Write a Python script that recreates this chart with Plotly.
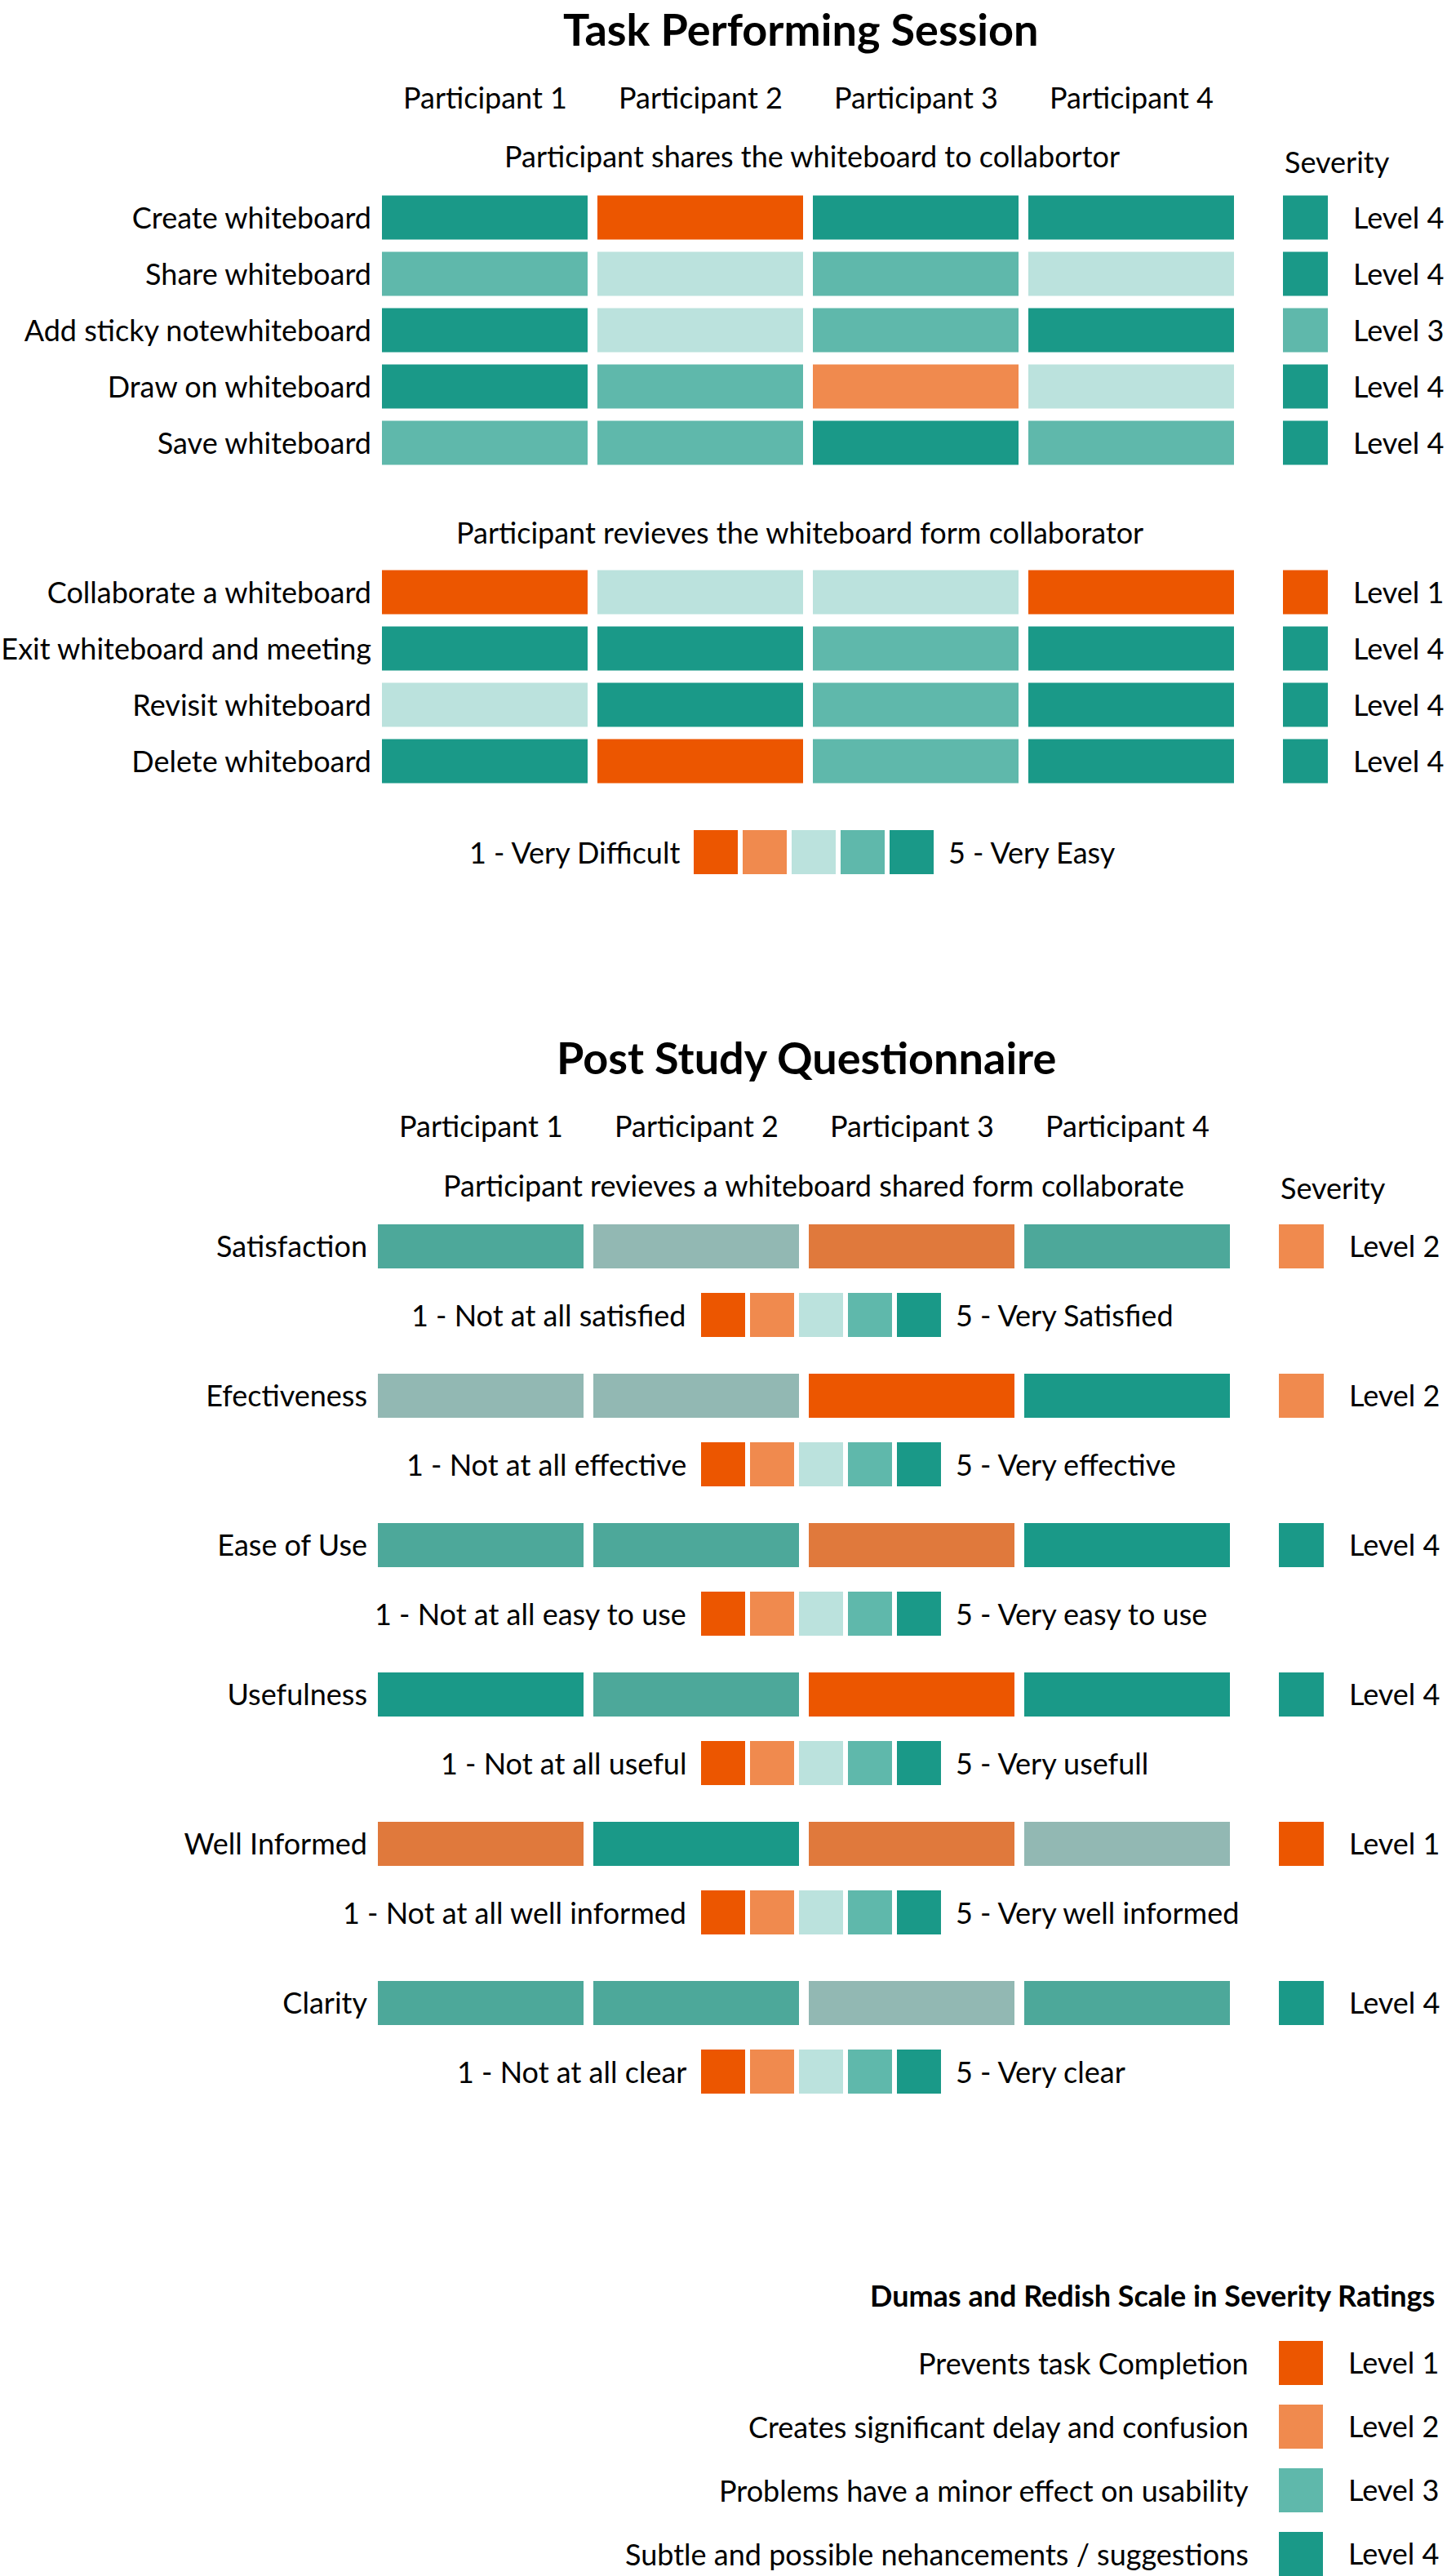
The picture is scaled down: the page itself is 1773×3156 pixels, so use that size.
import plotly.graph_objects as go

W, H = 1773, 3156
FONT = "Lato"
BLACK = "#000000"
FS = 36          # regular text size
TITLE_FS = 54

# ---------------- data ----------------
participants = ["Participant 1", "Participant 2", "Participant 3", "Participant 4"]

share_tasks = ["Create whiteboard", "Share whiteboard", "Add sticky notewhiteboard",
               "Draw on whiteboard", "Save whiteboard"]
share_scores = [[5, 1, 5, 5],
                [4, 3, 4, 3],
                [5, 3, 4, 5],
                [5, 4, 2, 3],
                [4, 4, 5, 4]]
share_severity = [4, 4, 3, 4, 4]

review_tasks = ["Collaborate a whiteboard", "Exit whiteboard and meeting",
                "Revisit whiteboard", "Delete whiteboard"]
review_scores = [[1, 3, 3, 1],
                 [5, 5, 4, 5],
                 [3, 5, 4, 5],
                 [5, 1, 4, 5]]
review_severity = [1, 4, 4, 4]

scale_points = [1, 2, 3, 4, 5]
ease_low, ease_high = "1 - Very Difficult", "5 - Very Easy"

questions = ["Satisfaction", "Efectiveness", "Ease of Use", "Usefulness",
             "Well Informed", "Clarity"]
question_scores = [[4, 3, 2, 4],
                   [3, 3, 1, 5],
                   [4, 4, 2, 5],
                   [5, 4, 1, 5],
                   [2, 5, 2, 3],
                   [4, 4, 3, 4]]
question_severity = [2, 2, 4, 4, 1, 4]
question_low = ["1 - Not at all satisfied", "1 - Not at all effective",
                "1 - Not at all easy to use", "1 - Not at all useful",
                "1 - Not at all well informed", "1 - Not at all clear"]
question_high = ["5 - Very Satisfied", "5 - Very effective", "5 - Very easy to use",
                 "5 - Very usefull", "5 - Very well informed", "5 - Very clear"]

severity_levels = [1, 2, 3, 4]
severity_names = ["Prevents task Completion", "Creates significant delay and confusion",
                  "Problems have a minor effect on usability",
                  "Subtle and possible nehancements / suggestions"]

# ---------------- styles ----------------
task_colors = ["#EC5600", "#F08A4E", "#BBE2DD", "#5FB8AB", "#1A9988"]
question_colors = ["#EC5600", "#E0793C", "#92B8B3", "#4DA89A", "#1A9988"]
severity_colors = ["#EC5600", "#F08A4E", "#5FB8AB", "#1A9988"]


def discrete(colors):
    n = len(colors)
    cs = []
    for i, c in enumerate(colors):
        cs.append([i / n, c])
        cs.append([(i + 1) / n, c])
    return cs


def level_text(v):
    return "Level %d" % v


fig = go.Figure()
axes_layout = {}
annotations = []
counter = [0]


def clamp(v):
    return max(0.0, min(1.0, v))


def make_axes(px0, px1, py0, py1, yextra=None):
    counter[0] += 1
    n = counter[0]
    s = "" if n == 1 else str(n)
    xa = dict(domain=[clamp(px0 / W), clamp(px1 / W)], anchor="y" + s, showgrid=False,
              zeroline=False, showticklabels=False, ticks="", showline=False, fixedrange=True)
    ya = dict(domain=[clamp(1 - py1 / H), clamp(1 - py0 / H)], anchor="x" + s, showgrid=False,
              zeroline=False, showticklabels=False, ticks="", showline=False,
              autorange="reversed", fixedrange=True,
              tickfont=dict(family=FONT, size=FS, color=BLACK))
    if yextra:
        ya.update(yextra)
    axes_layout["xaxis" + s] = xa
    axes_layout["yaxis" + s] = ya
    return "x" + s, "y" + s


def heat(z, x, y, xa, ya, colors, xgap=0, ygap=0):
    fig.add_trace(go.Heatmap(z=z, x=x, y=y, xaxis=xa, yaxis=ya,
                             colorscale=discrete(colors), zmin=0.5, zmax=len(colors) + 0.5,
                             showscale=False, xgap=xgap, ygap=ygap, hoverinfo="skip"))


def ann(text, px, py, size=FS, xanchor="center", bold=False, xref="paper", x=None,
        yref="paper", y=None, xshift=0):
    annotations.append(dict(
        text="<b>%s</b>" % text if bold else text,
        x=(px / W) if x is None else x, xref=xref,
        y=(1 - py / H) if y is None else y, yref=yref,
        xanchor=xanchor, yanchor="middle", showarrow=False, xshift=xshift,
        font=dict(family=FONT, size=size, color=BLACK)))


left_ticks = dict(showticklabels=True, ticklabelstandoff=6)


def right_ticks(rows, levels):
    return dict(showticklabels=True, side="right", ticklabelstandoff=30,
                tickmode="array", tickvals=rows, ticktext=[level_text(v) for v in levels])


# ---------------- section 1 : task performing session ----------------
ann("Task Performing Session", 982, 36, size=TITLE_FS, bold=True)

xa, ya = make_axes(462, 1518, 232.5, 577.5, left_ticks)
heat(share_scores, participants, share_tasks, xa, ya, task_colors, xgap=12, ygap=15)
for p in participants:
    ann(p, 0, 119, xref=xa, x=p)
ann("Participant shares the whiteboard to collabortor", 995, 191)
ann("Severity", 1572, 198, xanchor="left")

xs, ys = make_axes(1572, 1627, 232.5, 577.5, right_ticks(share_tasks, share_severity))
heat([[v] for v in share_severity], ["Severity"], share_tasks, xs, ys, severity_colors, ygap=15)

ann("Participant revieves the whiteboard form collaborator", 980, 652)
xa, ya = make_axes(462, 1518, 691.5, 967.5, left_ticks)
heat(review_scores, participants, review_tasks, xa, ya, task_colors, xgap=12, ygap=15)
xs, ys = make_axes(1572, 1627, 691.5, 967.5, right_ticks(review_tasks, review_severity))
heat([[v] for v in review_severity], ["Severity"], review_tasks, xs, ys, severity_colors, ygap=15)

xl, yl = make_axes(847, 1147, 1017, 1071)
heat([scale_points], scale_points, ["scale"], xl, yl, task_colors, xgap=6)
ann(ease_low, 0, 0, xref=xl + " domain", x=0, yref=yl + " domain", y=0.5,
    xanchor="right", xshift=-12)
ann(ease_high, 0, 0, xref=xl + " domain", x=1, yref=yl + " domain", y=0.5,
    xanchor="left", xshift=13)

# ---------------- section 2 : post study questionnaire ----------------
ann("Post Study Questionnaire", 988, 1295, size=TITLE_FS, bold=True)
ann("Participant revieves a whiteboard shared form collaborate", 997, 1452)
ann("Severity", 1567, 1455, xanchor="left")

ROW_TOPS = [1500, 1683, 1866, 2049, 2232, 2427]
SCALE_TOPS = [1584, 1767, 1950, 2133, 2316, 2511]

for i, q in enumerate(questions):
    t = ROW_TOPS[i]
    xa, ya = make_axes(457, 1513, t, t + 54, left_ticks)
    heat([question_scores[i]], participants, [q], xa, ya, question_colors, xgap=12)
    if i == 0:
        for p in participants:
            ann(p, 0, 1379, xref=xa, x=p)
    xs, ys = make_axes(1567, 1622, t, t + 54, right_ticks([q], [question_severity[i]]))
    heat([[question_severity[i]]], ["Severity"], [q], xs, ys, severity_colors)

    st = SCALE_TOPS[i]
    xl, yl = make_axes(856, 1156, st, st + 54)
    heat([scale_points], scale_points, ["scale"], xl, yl, task_colors, xgap=6)
    ann(question_low[i], 0, 0, xref=xl + " domain", x=0, yref=yl + " domain", y=0.5,
        xanchor="right", xshift=-13)
    ann(question_high[i], 0, 0, xref=xl + " domain", x=1, yref=yl + " domain", y=0.5,
        xanchor="left", xshift=13)

# ---------------- severity scale legend ----------------
ann("Dumas and Redish Scale in Severity Ratings", 1760, 2812, size=FS, bold=True,
    xanchor="right")
pitch = 78
top = 2856
xb, yb = make_axes(1567, 1621, top, H, dict(
    autorange=False, range=[-0.5 + (H - top) / pitch, -0.5],
    showticklabels=True, side="right", ticklabelstandoff=30,
    tickmode="array", tickvals=severity_names,
    ticktext=[level_text(v) for v in severity_levels]))
heat([[v] for v in severity_levels], ["level"], severity_names, xb, yb, severity_colors, ygap=24)
for i, name in enumerate(severity_names):
    ann(name, 0, 0, xref=xb + " domain", x=0, yref=yb, y=i, xanchor="right", xshift=-35)

fig.update_layout(
    width=W, height=H, autosize=False,
    margin=dict(l=0, r=0, t=0, b=0, pad=0),
    paper_bgcolor="white", plot_bgcolor="white",
    showlegend=False,
    font=dict(family=FONT, size=FS, color=BLACK),
    annotations=annotations,
    **axes_layout,
)

fig.write_html("out.html", config={"displayModeBar": False},
               post_script="document.body.style.margin='0';document.body.style.overflow='hidden';")
